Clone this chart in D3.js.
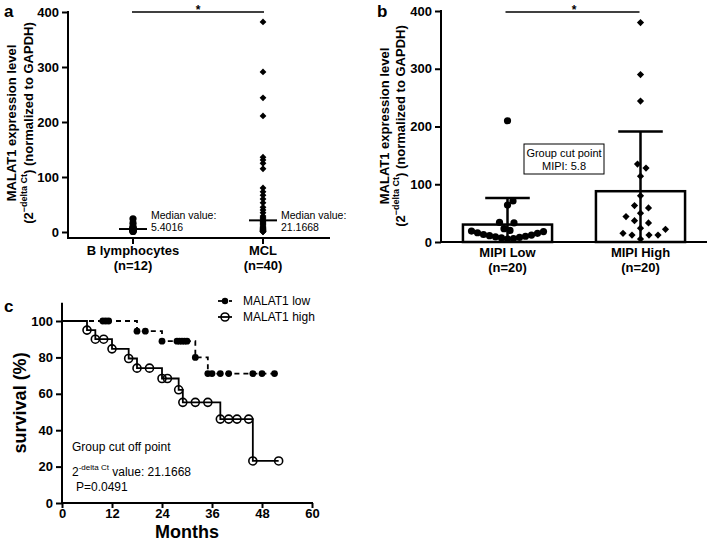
<!DOCTYPE html>
<html><head><meta charset="utf-8">
<script src="https://cdn.jsdelivr.net/npm/d3@7"></script>
<style>
body{margin:0;background:#fff}
svg{display:block}
text{font-family:"Liberation Sans",Arial,sans-serif;fill:#000}
</style>
</head><body>
<svg id="chart" width="709" height="542"></svg>
<script>
// ---------- DATA ----------
// Panel a
const groupsA = ["B lymphocytes", "MCL"];
const nLabelsA = ["(n=12)", "(n=40)"];
const bLymphocytes = [24, 16, 10, 7, 6, 5.5, 5.3, 4, 3, 2, 1.5, 1];
const mcl = [382, 291, 244, 211, 136, 131, 125, 115, 80, 73, 67, 60, 53, 45, 40, 35, 29, 27, 24, 21.5,
             20.83, 19, 17, 15, 13, 11, 9, 8, 7, 6, 5, 4, 3.5, 3, 2.5, 2, 1.5, 1, 0.7, 0.4];
const medianTextA = ["5.4016", "21.1668"];
const yTicksA = [0, 100, 200, 300, 400];

// Panel b
const groupsB = ["MIPI Low", "MIPI High"];
const nLabelsB = ["(n=20)", "(n=20)"];
const mipiLow = [210, 71, 64, 34, 33, 23, 20, 19, 18, 16, 15, 13, 12, 11, 10, 9, 8, 7, 6, 5];
const mipiHigh = [380, 290, 244, 135, 128, 114, 80, 63, 59, 50, 44, 37, 33, 24, 22, 15, 12, 12, 12, 5];
const yTicksB = [0, 100, 200, 300, 400];
const boxTextB = ["Group cut point", "MIPI: 5.8"];

// Panel c (Kaplan-Meier)
const lowStepTimes = [0, 18, 24, 32, 35];
const lowStepSurv  = [100, 94.4, 88.9, 80, 71.1];
const lowEnd = 51;
const lowMarkTimes = [9.8, 10.5, 11.2, 18, 20, 24, 27.6, 28.2, 28.8, 29.4, 30.0, 32, 35, 36, 38, 40, 45.8, 48, 51];
const highStepTimes = [0, 6, 8, 12, 16, 18, 24, 28, 29, 38, 45.8];
const highStepSurv  = [100, 95, 90, 84.7, 79.4, 74.1, 68.4, 62.2, 55.3, 46.1, 23.1];
const highEnd = 52;
const highMarkTimes = [6, 8, 10, 12, 16, 18, 21, 24, 25.3, 28, 29, 32, 35, 38, 40, 42, 44.8, 45.8, 52];
const xTicksC = [0, 12, 24, 36, 48, 60];
const yTicksC = [0, 20, 40, 60, 80, 100];
const legendC = ["MALAT1 low", "MALAT1 high"];

// ---------- DRAW ----------
const svg = d3.select("#chart");

function styleAxis(g) {
  g.select(".domain").remove();
  g.selectAll(".tick line").attr("stroke", "#000").attr("stroke-width", 2);
  g.selectAll(".tick text").attr("font-size", 13).attr("font-weight", "bold")
    .attr("fill", "#000").attr("font-family", '"Liberation Sans", Arial, sans-serif');
}
function line(g, x1, y1, x2, y2, w) {
  return g.append("line").attr("x1", x1).attr("y1", y1).attr("x2", x2).attr("y2", y2)
    .attr("stroke", "#000").attr("stroke-width", w || 2);
}
function diamondPath(r) {
  return `M0,${-r}L${r},0L0,${r}L${-r},0Z`;
}
function yTitle(g, x1, x2, cy) {
  g.append("text").attr("transform", `translate(${x1},${cy}) rotate(-90)`)
    .attr("text-anchor", "middle").attr("font-size", 13).attr("font-weight", "bold")
    .text("MALAT1 expression level");
  const t = g.append("text").attr("transform", `translate(${x2},${cy}) rotate(-90)`)
    .attr("text-anchor", "middle").attr("font-size", 13).attr("font-weight", "bold");
  t.append("tspan").text("(2");
  t.append("tspan").attr("font-size", 9).attr("dy", -6).text("\u2212delta Ct");
  t.append("tspan").attr("dy", 6).text(") (normalized to GAPDH)");
}
// beeswarm with an elliptical collision zone (horizontal Dx, vertical Dy)
function swarm(values, yScale, cx, Dx, Dy) {
  const pts = values.map(v => ({v, y: yScale(v)})).sort((a, b) => a.v - b.v);
  const placed = [];
  pts.forEach(p => {
    let best = null;
    for (let k = 0; k < 400 && best === null; k++) {
      const offs = k === 0 ? [0] : [k * 0.5, -k * 0.5];
      for (const o of offs) {
        if (placed.every(q => ((q.dx - o) / Dx) ** 2 + ((q.y - p.y) / Dy) ** 2 >= 1)) { best = o; break; }
      }
    }
    p.dx = best; placed.push(p);
  });
  return placed.map(p => ({v: p.v, x: cx + p.dx, y: p.y}));
}

// ===== Panel a =====
const gA = svg.append("g");
const ax = d3.scalePoint().domain(groupsA).range([68, 328]).padding(0.5);
const ay = d3.scaleLinear().domain([0, 400]).range([232, 12]);
const axisYA = 238;
gA.append("g").attr("transform", "translate(68,0)")
  .call(d3.axisLeft(ay).tickValues(yTicksA).tickSize(6).tickSizeOuter(0).tickPadding(3))
  .call(styleAxis);
line(gA, 68, ay(400) - 1, 68, axisYA + 1);
line(gA, 67, axisYA, 330, axisYA);
groupsA.forEach((gname, i) => {
  const x = ax(gname);
  line(gA, x, axisYA, x, axisYA + 6);
  gA.append("text").attr("x", x).attr("y", 255).attr("text-anchor", "middle")
    .attr("font-size", 13).attr("font-weight", "bold").text(gname);
  gA.append("text").attr("x", x).attr("y", 270).attr("text-anchor", "middle")
    .attr("font-size", 13).attr("font-weight", "bold").text(nLabelsA[i]);
});
// points
gA.selectAll("circle.bl").data(bLymphocytes).join("circle")
  .attr("cx", ax(groupsA[0])).attr("cy", d => ay(d)).attr("r", 3.6).attr("fill", "#000");
gA.selectAll("path.mcl").data(mcl).join("path")
  .attr("d", diamondPath(3.4))
  .attr("transform", d => `translate(${ax(groupsA[1])},${ay(d)})`).attr("fill", "#000");
// medians
[bLymphocytes, mcl].forEach((arr, i) => {
  const x = ax(groupsA[i]);
  const m = d3.median(arr);
  line(gA, x - 14, ay(m), x + 14, ay(m), 2);
  gA.append("text").attr("x", x + 18).attr("y", 219).attr("font-size", 10.5).text("Median value:");
  gA.append("text").attr("x", x + 18).attr("y", 231).attr("font-size", 10.5).text(medianTextA[i]);
});
// significance
line(gA, ax(groupsA[0]) - 1, 12, ax(groupsA[1]) + 1, 12, 1.5);
gA.append("text").attr("x", (ax(groupsA[0]) + ax(groupsA[1])) / 2).attr("y", 14)
  .attr("text-anchor", "middle").attr("font-size", 12).attr("font-weight", "bold").text("*");
yTitle(gA, 16, 33, 123);
gA.append("text").attr("x", 4).attr("y", 17).attr("font-size", 17).attr("font-weight", "bold").text("a");

// ===== Panel b =====
const gB = svg.append("g");
const bx = d3.scalePoint().domain(groupsB).range([441, 707]).padding(0.5);
const by = d3.scaleLinear().domain([0, 400]).range([242, 11]);
const barW = bx.step() * 0.67;
gB.append("g").attr("transform", "translate(441,0)")
  .call(d3.axisLeft(by).tickValues(yTicksB).tickSize(6).tickSizeOuter(0).tickPadding(3))
  .call(styleAxis);
[mipiLow, mipiHigh].forEach((arr, i) => {
  const x = bx(groupsB[i]);
  const mean = d3.mean(arr), sd = d3.deviation(arr);
  gB.append("rect").attr("x", x - barW / 2).attr("y", by(mean)).attr("width", barW)
    .attr("height", by(0) - by(mean)).attr("fill", "#fff").attr("stroke", "#000").attr("stroke-width", 2.5);
  line(gB, x, by(mean + sd), x, by(Math.max(0, mean - sd)), 2.5);
  line(gB, x - barW / 4, by(mean + sd), x + barW / 4, by(mean + sd), 2.5);
});
line(gB, 441, by(400) - 1, 441, by(0) + 1);
line(gB, 440, by(0), 707, by(0));
// points
swarm(mipiLow, by, bx(groupsB[0]), 6, 9.5).forEach(p => {
  gB.append("circle").attr("cx", p.x).attr("cy", p.y).attr("r", 3.6).attr("fill", "#000");
});
swarm(mipiHigh, by, bx(groupsB[1]), 9, 10).forEach(p => {
  gB.append("path").attr("d", diamondPath(3.6)).attr("transform", `translate(${p.x},${p.y})`).attr("fill", "#000");
});
groupsB.forEach((gname, i) => {
  const x = bx(gname);
  gB.append("text").attr("x", x).attr("y", 257).attr("text-anchor", "middle")
    .attr("font-size", 13).attr("font-weight", "bold").text(gname);
  gB.append("text").attr("x", x).attr("y", 272).attr("text-anchor", "middle")
    .attr("font-size", 13).attr("font-weight", "bold").text(nLabelsB[i]);
});
line(gB, bx(groupsB[0]) - 2, 12, bx(groupsB[1]) - 1, 12, 1.5);
gB.append("text").attr("x", (bx(groupsB[0]) + bx(groupsB[1])) / 2).attr("y", 14)
  .attr("text-anchor", "middle").attr("font-size", 12).attr("font-weight", "bold").text("*");
// box
gB.append("rect").attr("x", 524).attr("y", 144).attr("width", 80).attr("height", 30)
  .attr("fill", "#fff").attr("stroke", "#000").attr("stroke-width", 1);
boxTextB.forEach((t, i) => {
  gB.append("text").attr("x", 564).attr("y", 157 + i * 13).attr("text-anchor", "middle")
    .attr("font-size", 11).text(t);
});
yTitle(gB, 389, 405, 126);
gB.append("text").attr("x", 377).attr("y", 17).attr("font-size", 17).attr("font-weight", "bold").text("b");

// ===== Panel c =====
const gC = svg.append("g");
const cx = d3.scaleLinear().domain([0, 60]).range([62, 312]);
const cy = d3.scaleLinear().domain([0, 100]).range([503, 321]);
gC.append("g").attr("transform", `translate(${cx(0)},0)`)
  .call(d3.axisLeft(cy).tickValues(yTicksC).tickSize(6).tickSizeOuter(0).tickPadding(3))
  .call(styleAxis);
gC.append("g").attr("transform", `translate(0,${cy(0)})`)
  .call(d3.axisBottom(cx).tickValues(xTicksC).tickSize(5).tickSizeOuter(0).tickPadding(1))
  .call(styleAxis);
line(gC, cx(0), cy(110), cx(0), cy(0) + 1);
line(gC, cx(0) - 1, cy(0), cx(60) + 1, cy(0));

function survAt(times, surv, t) {
  let s = surv[0];
  times.forEach((tt, i) => { if (tt <= t + 1e-9) s = surv[i]; });
  return s;
}
const stepLine = d3.line().x(d => cx(d[0])).y(d => cy(d[1])).curve(d3.curveStepAfter);
const lowPts = lowStepTimes.map((t, i) => [t, lowStepSurv[i]]).concat([[lowEnd, lowStepSurv[lowStepSurv.length - 1]]]);
const highPts = highStepTimes.map((t, i) => [t, highStepSurv[i]]).concat([[highEnd, highStepSurv[highStepSurv.length - 1]]]);
gC.append("path").attr("d", stepLine(highPts)).attr("fill", "none").attr("stroke", "#000").attr("stroke-width", 1.8);
gC.append("path").attr("d", stepLine(lowPts)).attr("fill", "none").attr("stroke", "#000")
  .attr("stroke-width", 1.8).attr("stroke-dasharray", "5,4");
highMarkTimes.forEach(t => {
  gC.append("circle").attr("cx", cx(t)).attr("cy", cy(survAt(highStepTimes, highStepSurv, t)))
    .attr("r", 4).attr("fill", "none").attr("stroke", "#000").attr("stroke-width", 1.6);
});
lowMarkTimes.forEach(t => {
  gC.append("circle").attr("cx", cx(t)).attr("cy", cy(survAt(lowStepTimes, lowStepSurv, t)))
    .attr("r", 3.4).attr("fill", "#000");
});
// legend
line(gC, 218, 301, 222, 301, 1.8);
line(gC, 229, 301, 232, 301, 1.8);
gC.append("circle").attr("cx", 225).attr("cy", 301).attr("r", 3.2).attr("fill", "#000");
line(gC, 218, 317, 232, 317, 1.8);
gC.append("circle").attr("cx", 225).attr("cy", 317).attr("r", 4).attr("fill", "none").attr("stroke", "#000").attr("stroke-width", 1.6);
legendC.forEach((t, i) => {
  gC.append("text").attr("x", 243).attr("y", 305 + i * 16).attr("font-size", 12).text(t);
});
// annotations
gC.append("text").attr("x", 72).attr("y", 451).attr("font-size", 12).text("Group cut off point");
const ann = gC.append("text").attr("x", 72).attr("y", 476).attr("font-size", 12);
ann.append("tspan").text("2");
ann.append("tspan").attr("font-size", 8).attr("dy", -6).text("-delta Ct");
ann.append("tspan").attr("dy", 6).text("  value: 21.1668");
gC.append("text").attr("x", 76).attr("y", 491).attr("font-size", 12).text("P=0.0491");
// axis titles
gC.append("text").attr("x", cx(30)).attr("y", 538).attr("text-anchor", "middle")
  .attr("font-size", 18).attr("font-weight", "bold").text("Months");
gC.append("text").attr("transform", `translate(26,${cy(55)}) rotate(-90)`).attr("text-anchor", "middle")
  .attr("font-size", 18).attr("font-weight", "bold").text("survival (%)");
gC.append("text").attr("x", 4).attr("y", 312).attr("font-size", 17).attr("font-weight", "bold").text("c");
</script>
</body></html>
